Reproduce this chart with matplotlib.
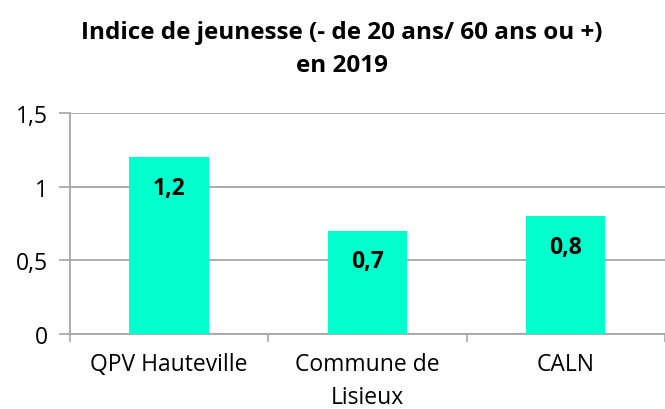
import matplotlib.pyplot as plt
import numpy as np

# data
categories = ['QPV Hauteville', 'Commune de\nLisieux', 'CALN']
values = [1.2, 0.7, 0.8]
value_labels = ['1,2', '0,7', '0,8']
ytick_vals = [0, 0.5, 1, 1.5]
ytick_labels = ['0', '0,5', '1', '1,5']

plt.rcParams['font.family'] = ['Open Sans', 'DejaVu Sans']

fig = plt.figure(figsize=(6.65, 4.1), dpi=100)
ax = fig.add_axes([0.105, 0.183, 0.895, 0.539])

grey = '#A6A6A6'
x = np.arange(len(categories))
ax.bar(x, values, width=0.4, color='#00FFCC', zorder=3)

for xi, v, lab in zip(x, values, value_labels):
    ax.annotate(lab, (xi, v), xytext=(0, -22), textcoords='offset points',
                ha='center', va='center', fontsize=16.5, fontweight='bold')

ax.set_xlim(-0.5, 2.5)
ax.set_ylim(0, 1.5)
ax.set_yticks(ytick_vals)
ax.set_yticklabels(ytick_labels, fontsize=16.5)
ax.set_xticks(x)
ax.set_xticklabels(categories, fontsize=16.5, linespacing=1.5)
ax.set_xticks([-0.5, 0.5, 1.5, 2.5], minor=True)
ax.tick_params(axis='x', which='major', length=0, pad=13)
ax.tick_params(axis='x', which='minor', length=6, color=grey, width=1.2)
ax.tick_params(axis='y', length=8, color=grey, width=1.2, pad=8)

ax.yaxis.grid(True, color=grey, linewidth=1.3, zorder=0)
for s in ['top', 'right']:
    ax.spines[s].set_visible(False)
for s in ['left', 'bottom']:
    ax.spines[s].set_color(grey)
    ax.spines[s].set_linewidth(1.3)

fig.text(0.514, 0.88, 'Indice de jeunesse (- de 20 ans/ 60 ans ou +)\nen 2019',
         ha='center', va='center', fontsize=17.5, fontweight='bold', linespacing=1.5)

fig.savefig('out.png', dpi=100)
